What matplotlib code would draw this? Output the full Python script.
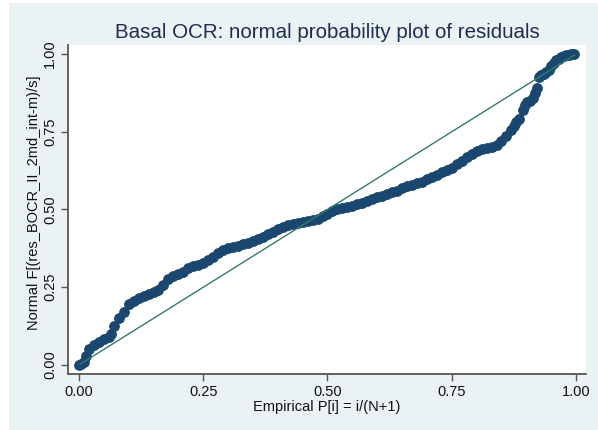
import numpy as np
import matplotlib
matplotlib.use("Agg")
import matplotlib.pyplot as plt
from matplotlib.patches import Rectangle

plt.rcParams['font.family'] = ['Liberation Sans', 'DejaVu Sans']

# empirical P[i] and normal F of residuals
emp_p = [0.000, 0.005, 0.010, 0.015, 0.020, 0.030, 0.040, 0.050, 0.060, 0.065,
         0.070, 0.080, 0.090, 0.100, 0.110, 0.120, 0.130, 0.140, 0.150, 0.160,
         0.170, 0.180, 0.190, 0.200, 0.210, 0.220, 0.230, 0.240, 0.250, 0.260,
         0.270, 0.280, 0.290, 0.300, 0.310, 0.320, 0.330, 0.340, 0.350, 0.360,
         0.370, 0.380, 0.390, 0.400, 0.410, 0.420, 0.430, 0.440, 0.450, 0.460,
         0.470, 0.480, 0.490, 0.500, 0.510, 0.520, 0.530, 0.540, 0.550, 0.560,
         0.570, 0.580, 0.590, 0.600, 0.610, 0.620, 0.630, 0.640, 0.650, 0.660,
         0.670, 0.680, 0.690, 0.700, 0.710, 0.720, 0.730, 0.740, 0.750, 0.760,
         0.770, 0.780, 0.790, 0.800, 0.810, 0.820, 0.830, 0.840, 0.850, 0.860,
         0.870, 0.875, 0.880, 0.885, 0.893, 0.897, 0.902, 0.908, 0.913, 0.918,
         0.922, 0.925, 0.930, 0.935, 0.940, 0.945, 0.950, 0.955, 0.960, 0.965,
         0.970, 0.975, 0.980, 0.985, 0.990, 0.995]
norm_f = [0.000, 0.002, 0.010, 0.030, 0.050, 0.065, 0.075, 0.082, 0.090, 0.100,
          0.125, 0.150, 0.170, 0.195, 0.205, 0.215, 0.222, 0.228, 0.235, 0.242,
          0.258, 0.275, 0.285, 0.292, 0.300, 0.312, 0.318, 0.323, 0.328, 0.336,
          0.348, 0.360, 0.370, 0.375, 0.380, 0.384, 0.390, 0.393, 0.398, 0.405,
          0.412, 0.420, 0.428, 0.438, 0.445, 0.450, 0.453, 0.457, 0.460, 0.462,
          0.465, 0.470, 0.478, 0.487, 0.495, 0.500, 0.505, 0.508, 0.512, 0.518,
          0.522, 0.528, 0.535, 0.540, 0.545, 0.550, 0.555, 0.560, 0.568, 0.575,
          0.580, 0.585, 0.590, 0.598, 0.605, 0.612, 0.620, 0.628, 0.635, 0.645,
          0.655, 0.668, 0.680, 0.688, 0.693, 0.697, 0.700, 0.708, 0.720, 0.735,
          0.755, 0.770, 0.780, 0.790, 0.820, 0.835, 0.845, 0.850, 0.858, 0.875,
          0.890, 0.925, 0.932, 0.937, 0.942, 0.950, 0.962, 0.972, 0.980, 0.985,
          0.990, 0.993, 0.996, 0.998, 0.999, 1.000]
ref_line = [0.003, 0.997]
ticks = [0.0, 0.25, 0.5, 0.75, 1.0]
tick_labels = ['0.00', '0.25', '0.50', '0.75', '1.00']

fig = plt.figure(figsize=(5.98, 4.30), dpi=100, facecolor='white')
#light stata background panel, kept behind the axes
fig.patches.append(Rectangle((9/598, 0), 1 - 9/598, 1 - 3/430, transform=fig.transFigure,
                             facecolor='#eaf2f3', edgecolor='none', zorder=-10))

ax = fig.add_axes([68/598, 1 - 374/430, (586 - 68)/598, (374 - 45)/430])
ax.set_zorder(5)
ax.set_facecolor('white')

ax.plot(ref_line, ref_line, color='#357a6c', linewidth=1.0, zorder=3)
ax.scatter(emp_p, norm_f, s=48, color='#1a476f', edgecolors='#1a476f', linewidths=0.8, zorder=2)

ax.set_xlim(-0.022, 1.020)
ax.set_ylim(-0.029, 1.029)
ax.set_xticks(ticks)
ax.set_xticklabels(tick_labels)
ax.set_yticks(ticks)
ax.set_yticklabels(tick_labels, rotation=90, va='center')
ax.tick_params(direction='out', length=5, width=1, color='#555555', labelsize=10.5,
               labelcolor='#111111', pad=3)

for s in ['top', 'right']:
    ax.spines[s].set_visible(False)
for s in ['left', 'bottom']:
    ax.spines[s].set_color('#555555')
    ax.spines[s].set_linewidth(1.3)

ax.set_title('Basal OCR: normal probability plot of residuals', fontsize=14.8,
             color='#1e2d52', pad=5)
ax.set_xlabel('Empirical P[i] = i/(N+1)', fontsize=10.5, color='#111111', labelpad=1)
ax.set_ylabel('Normal F[(res_BOCR_II_2md_int-m)/s]', fontsize=10.5, color='#111111')
ax.yaxis.set_label_coords(-0.052, 0.52)

fig.savefig('out.png', dpi=100, facecolor=fig.get_facecolor())
